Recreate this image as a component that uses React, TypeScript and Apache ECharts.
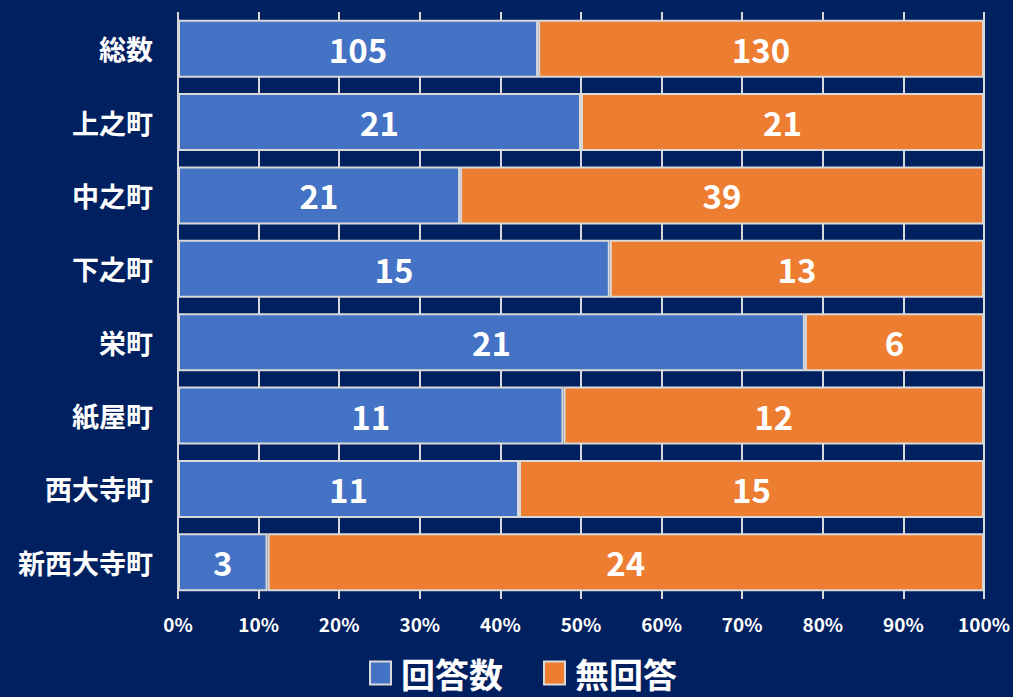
import React, { useEffect, useRef } from "react";
import * as echarts from "echarts";

const categories = ["総数", "上之町", "中之町", "下之町", "栄町", "紙屋町", "西大寺町", "新西大寺町"];
const answered = [105, 21, 21, 15, 21, 11, 11, 3];
const noAnswer = [130, 21, 39, 13, 6, 12, 15, 24];
const seriesNames = ["回答数", "無回答"];

const FONT = "'Noto Sans CJK JP', 'Noto Sans', sans-serif";

export default function App() {
  const ref = useRef<HTMLDivElement>(null);
  useEffect(() => {
    if (!ref.current) return;
    const chart = echarts.init(ref.current, undefined, { renderer: "svg" });
    const totals = answered.map((a, i) => a + noAnswer[i]);
    const mk = (arr: number[]) =>
      arr.map((v, i) => ({ value: (v / totals[i]) * 100, raw: v }));
    const labelCfg = {
      show: true,
      position: "inside",
      color: "#ffffff",
      fontSize: 33,
      fontWeight: "bold",
      fontFamily: FONT,
      formatter: (p: any) => String(p.data.raw),
    };
    chart.setOption({
      animation: false,
      backgroundColor: "#00205f",
      textStyle: { fontFamily: FONT },
      grid: { left: 178, right: 29, top: 12, bottom: 98, containLabel: false },
      xAxis: {
        type: "value",
        min: 0,
        max: 100,
        interval: 10,
        axisLine: { show: false },
        axisTick: { show: false },
        splitLine: { show: true, lineStyle: { color: "#d9d9d9", width: 2 } },
        axisLabel: {
          color: "#ffffff",
          fontSize: 19,
          fontWeight: "bold",
          fontFamily: FONT,
          margin: 15,
          formatter: (v: number) => v + "%",
        },
      },
      yAxis: {
        type: "category",
        data: categories,
        inverse: true,
        axisLine: { show: false },
        axisTick: { show: false },
        splitLine: { show: false },
        axisLabel: {
          color: "#ffffff",
          fontSize: 27,
          fontWeight: "bold",
          fontFamily: FONT,
          margin: 25,
        },
      },
      legend: {
        data: seriesNames.map((n) => ({ name: n, icon: "rect" })),
        left: 369,
        top: 655,
        padding: 0,
        itemWidth: 21,
        itemHeight: 23,
        itemGap: 40,
        textStyle: {
          color: "#ffffff",
          fontSize: 34,
          lineHeight: 36,
          fontWeight: "bold",
          fontFamily: FONT,
          padding: [0, 0, 0, 5],
        },
      },
      series: [
        {
          name: seriesNames[0],
          type: "bar",
          stack: "total",
          barCategoryGap: "21%",
          data: mk(answered),
          itemStyle: { color: "#4472c4", borderColor: "#d9d9d9", borderWidth: 2 },
          label: labelCfg,
        },
        {
          name: seriesNames[1],
          type: "bar",
          stack: "total",
          barCategoryGap: "21%",
          data: mk(noAnswer),
          itemStyle: { color: "#ed7d31", borderColor: "#d9d9d9", borderWidth: 2 },
          label: labelCfg,
        },
      ],
    });
    return () => chart.dispose();
  }, []);
  return (
    <div
      ref={ref}
      style={{ width: 1013, height: 697, position: "absolute", left: 0, top: 0 }}
    />
  );
}
